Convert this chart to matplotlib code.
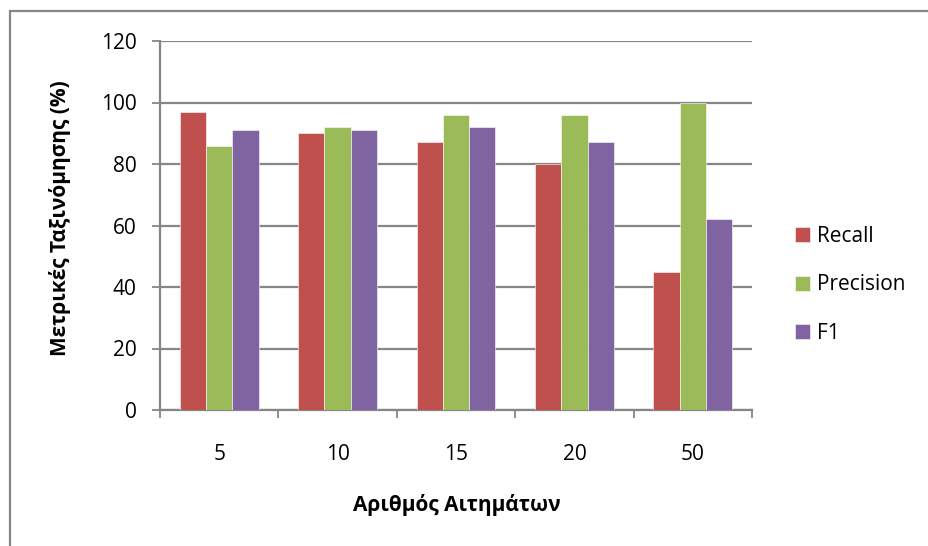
import numpy as np
import matplotlib.pyplot as plt
from matplotlib.patches import Rectangle

plt.rcParams['font.family'] = ['Open Sans', 'DejaVu Sans']

# Data
requests = ['5', '10', '15', '20', '50']
recall = [97, 90, 87, 80, 45]
precision = [86, 92, 96, 96, 100]
f1 = [91, 91, 92, 87, 62]

series = [('Recall', recall, '#C0504D'),
          ('Precision', precision, '#9BBB59'),
          ('F1', f1, '#8064A2')]

grid_col = '#868686'

fig = plt.figure(figsize=(9.29, 5.46), dpi=100)
ax = fig.add_axes([160/929, 1 - 410/546, (752-160)/929, (410-41)/546])

x = np.arange(len(requests))
w = 1 / 4.5
for i, (name, vals, col) in enumerate(series):
    ax.bar(x + (i - 1) * w, vals, width=w, color=col, label=name,
           edgecolor='white', linewidth=0.4, zorder=3)

ax.set_xlim(-0.5, len(requests) - 0.5)
ax.set_ylim(0, 120)
ax.set_yticks(np.arange(0, 121, 20))
ax.grid(axis='y', color=grid_col, linewidth=1.6, zorder=0)

# category boundaries as major ticks, labels at centres
ax.set_xticks(np.arange(-0.5, len(requests)), labels=[''] * (len(requests) + 1))
ax.set_xticks(x, labels=requests, minor=True)
ax.tick_params(axis='x', which='major', direction='out', length=6, width=1.3, color=grid_col)
ax.tick_params(axis='x', which='minor', length=0, pad=24.5, labelsize=15)
ax.tick_params(axis='y', direction='out', length=6, width=1.3, color=grid_col,
               pad=11, labelsize=15)

for s in ['top', 'right']:
    ax.spines[s].set_visible(False)
for s in ['left', 'bottom']:
    ax.spines[s].set_color(grid_col)
    ax.spines[s].set_linewidth(1.6)

fig.text(60/929, 1 - 218/546, 'Μετρικές Ταξινόμησης (%)', rotation=90,
         ha='center', va='center', fontsize=15, fontweight='bold')
fig.text(457/929, 1 - 505/546, 'Αριθμός Αιτημάτων', ha='center', va='center',
         fontsize=15, fontweight='bold')

ax.legend(loc='center left', bbox_to_anchor=(795/929, 1 - 285/546),
          bbox_transform=fig.transFigure, frameon=False, fontsize=15,
          handlelength=0.72, handleheight=0.72, handletextpad=0.35,
          labelspacing=1.33, borderaxespad=0, borderpad=0)

# outer chart border
fig.patches.append(Rectangle((10/929, -0.05), 1.1, 1.05 - 11/546, transform=fig.transFigure,
                             fill=False, edgecolor=grid_col, linewidth=1.6, figure=fig))

fig.savefig('out.png', dpi=100)
